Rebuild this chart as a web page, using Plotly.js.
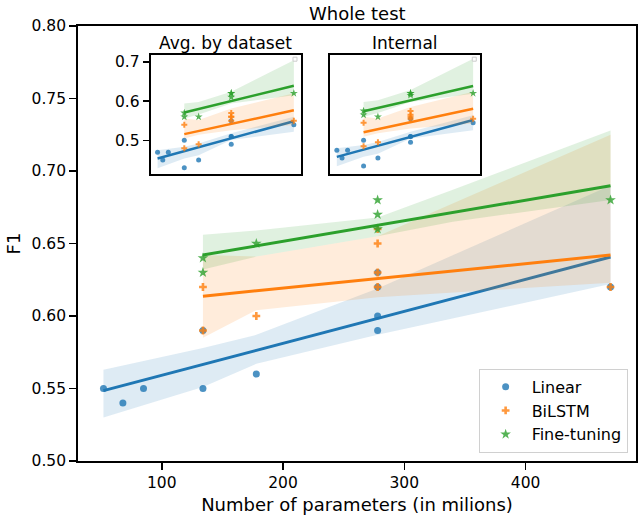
<!DOCTYPE html>
<html>
<head>
<meta charset="utf-8">
<script src="https://cdn.plot.ly/plotly-3.0.1.min.js"></script>
<style>html,body{margin:0;padding:0;background:#fff;}#chart{width:643px;height:518px;}</style>
</head>
<body>
<div id="chart"></div>
<script>
// ---------- data ----------
var seriesNames = ['Linear', 'BiLSTM', 'Fine-tuning'];

// Whole test (main axes)
var linearX = [52, 68, 85, 134, 134, 178, 278, 278, 278, 278, 470];
var linearF1 = [0.55, 0.54, 0.55, 0.55, 0.59, 0.56, 0.59, 0.60, 0.62, 0.63, 0.62];
var bilstmX = [134, 134, 178, 278, 278, 278, 278, 470];
var bilstmF1 = [0.59, 0.62, 0.60, 0.62, 0.63, 0.65, 0.66, 0.62];
var fineX = [134, 134, 178, 278, 278, 278, 470];
var fineF1 = [0.63, 0.64, 0.65, 0.66, 0.67, 0.68, 0.68];

// Avg. by dataset (inset 1)
var avgLinearF1 = [0.47, 0.45, 0.47, 0.43, 0.50, 0.45, 0.55, 0.51, 0.49, 0.51, 0.54];
var avgBilstmF1 = [0.54, 0.48, 0.49, 0.57, 0.56, 0.56, 0.55, 0.55];
var avgFineF1 = [0.57, 0.56, 0.56, 0.62, 0.61, 0.62, 0.62];

// Internal (inset 2)
var intLinearF1 = [0.475, 0.455, 0.475, 0.435, 0.50, 0.455, 0.555, 0.51, 0.495, 0.51, 0.545];
var intBilstmF1 = [0.545, 0.485, 0.495, 0.575, 0.565, 0.56, 0.555, 0.555];
var intFineF1 = [0.575, 0.565, 0.56, 0.62, 0.615, 0.62, 0.62];

// confidence bands (lower / upper edges)
var linearBandX = [52, 134, 178, 278, 470];
var linearLo = [0.530, 0.551, 0.567, 0.587, 0.622];
var linearHi = [0.563, 0.578, 0.587, 0.619, 0.690];
var bilstmBandX = [134, 178, 278, 470];
var bilstmLo = [0.585, 0.604, 0.613, 0.623];
var bilstmHi = [0.642, 0.641, 0.655, 0.725];
var fineBandX = [134, 178, 278, 340, 470];
var fineLo = [0.632, 0.641, 0.655, 0.665, 0.680];
var fineHi = [0.656, 0.659, 0.668, 0.687, 0.728];

var avgLinearLo = [0.429, 0.454, 0.462, 0.501, 0.522];
var avgLinearHi = [0.475, 0.484, 0.492, 0.518, 0.560];
var avgBilstmLo = [0.505, 0.514, 0.526, 0.539];
var avgBilstmHi = [0.556, 0.552, 0.581, 0.620];
var avgFineLo = [0.556, 0.566, 0.594, 0.600, 0.615];
var avgFineHi = [0.594, 0.598, 0.624, 0.650, 0.704];

var intLinearLo = [0.434, 0.458, 0.466, 0.505, 0.526];
var intLinearHi = [0.480, 0.488, 0.496, 0.522, 0.564];
var intBilstmLo = [0.509, 0.518, 0.530, 0.543];
var intBilstmHi = [0.560, 0.556, 0.585, 0.624];
var intFineLo = [0.560, 0.570, 0.598, 0.604, 0.619];
var intFineHi = [0.598, 0.602, 0.628, 0.654, 0.708];

var xTicks = [100, 200, 300, 400];
var yTicks = [0.50, 0.55, 0.60, 0.65, 0.70, 0.75, 0.80];
var insetYTicks = [0.5, 0.6, 0.7];

// ---------- styling ----------
var colors = ['#1f77b4', '#ff7f0e', '#2ca02c'];
var bandColors = ['rgba(31,119,180,0.15)', 'rgba(255,127,14,0.15)', 'rgba(44,160,44,0.15)'];
var symbols = ['circle', 'cross', 'star'];
var FONT = 'DejaVu Sans, Verdana, sans-serif';

function fit(xs, ys) {
  var n = xs.length, mx = 0, my = 0, i;
  for (i = 0; i < n; i++) { mx += xs[i]; my += ys[i]; }
  mx /= n; my /= n;
  var sxx = 0, sxy = 0;
  for (i = 0; i < n; i++) { sxx += (xs[i] - mx) * (xs[i] - mx); sxy += (xs[i] - mx) * (ys[i] - my); }
  var b = sxy / sxx;
  var x0 = Math.min.apply(null, xs), x1 = Math.max.apply(null, xs);
  return { x: [x0, x1], y: [my + b * (x0 - mx), my + b * (x1 - mx)] };
}

var traces = [];
function addSeries(k, xs, ys, bx, lo, hi, xa, ya, main) {
  traces.push({
    type: 'scatter', mode: 'markers', x: xs, y: ys, xaxis: xa, yaxis: ya,
    name: seriesNames[k], showlegend: main, legendrank: k + 1,
    marker: { symbol: symbols[k], color: colors[k], opacity: 0.8,
      size: main ? (k === 2 ? 8 : (k === 1 ? 6.5 : 7)) : (k === 2 ? 6 : 5), line: { width: 0 } },
    hoverinfo: 'skip'
  });
  var px = bx.concat(bx.slice().reverse());
  var py = hi.concat(lo.slice().reverse());
  traces.push({
    type: 'scatter', mode: 'lines', x: px, y: py, xaxis: xa, yaxis: ya,
    fill: 'toself', fillcolor: bandColors[k], line: { width: 0, color: 'rgba(0,0,0,0)' },
    showlegend: false, hoverinfo: 'skip'
  });
  var f = fit(xs, ys);
  traces.push({
    type: 'scatter', mode: 'lines', x: f.x, y: f.y, xaxis: xa, yaxis: ya,
    line: { color: colors[k], width: main ? 3 : 2.5 }, showlegend: false, hoverinfo: 'skip'
  });
}

addSeries(0, linearX, linearF1, linearBandX, linearLo, linearHi, 'x', 'y', true);
addSeries(1, bilstmX, bilstmF1, bilstmBandX, bilstmLo, bilstmHi, 'x', 'y', true);
addSeries(2, fineX, fineF1, fineBandX, fineLo, fineHi, 'x', 'y', true);

addSeries(0, linearX, avgLinearF1, linearBandX, avgLinearLo, avgLinearHi, 'x2', 'y2', false);
addSeries(1, bilstmX, avgBilstmF1, bilstmBandX, avgBilstmLo, avgBilstmHi, 'x2', 'y2', false);
addSeries(2, fineX, avgFineF1, fineBandX, avgFineLo, avgFineHi, 'x2', 'y2', false);

addSeries(0, linearX, intLinearF1, linearBandX, intLinearLo, intLinearHi, 'x3', 'y3', false);
addSeries(1, bilstmX, intBilstmF1, bilstmBandX, intBilstmLo, intBilstmHi, 'x3', 'y3', false);
addSeries(2, fineX, intFineF1, fineBandX, intFineLo, intFineHi, 'x3', 'y3', false);

var tickFont = { family: FONT, size: 15.5, color: '#000' };
var xr = [31, 491];
var insetYR = [0.4135, 0.717];

function insetX(dom) {
  return { domain: dom, range: xr, showline: true, mirror: true, linecolor: '#000', linewidth: 2,
    ticks: '', showticklabels: false, showgrid: false, zeroline: false, fixedrange: true };
}
function insetY(dom, xa, labels) {
  return { domain: dom, anchor: xa, range: insetYR, showline: true, mirror: true, linecolor: '#000', linewidth: 2,
    ticks: labels ? 'outside' : '', ticklen: 6, tickwidth: 1.5, tickcolor: '#000',
    tickvals: insetYTicks, tickformat: '.1f', showticklabels: labels, tickfont: tickFont,
    showgrid: false, zeroline: false, fixedrange: true };
}

var insetYDom = [0.659, 0.933];

var layout = {
  width: 643, height: 518,
  margin: { l: 78, r: 7, t: 26, b: 57, pad: 0 },
  paper_bgcolor: '#fff', plot_bgcolor: '#fff',
  font: { family: FONT, color: '#000' },
  showlegend: true,
  xaxis: {
    range: xr, tickvals: xTicks, showline: true, mirror: true, linecolor: '#000', linewidth: 1.8,
    ticks: 'outside', ticklen: 7, tickwidth: 1.6, tickcolor: '#000', tickfont: tickFont,
    showgrid: false, zeroline: false,
    title: { text: 'Number of parameters (in milions)', font: { family: FONT, size: 18, color: '#000' }, standoff: 7 }
  },
  yaxis: {
    range: [0.5, 0.8], tickvals: yTicks, tickformat: '.2f', showline: true, mirror: true, linecolor: '#000', linewidth: 1.8,
    ticks: 'outside', ticklen: 7, tickwidth: 1.6, tickcolor: '#000', tickfont: tickFont,
    showgrid: false, zeroline: false,
    title: { text: 'F1', font: { family: FONT, size: 18, color: '#000' }, standoff: 6 }
  },
  xaxis2: Object.assign(insetX([0.1303, 0.3991]), { anchor: 'y2' }),
  yaxis2: insetY(insetYDom, 'x2', true),
  xaxis3: Object.assign(insetX([0.4516, 0.7204]), { anchor: 'y3' }),
  yaxis3: insetY(insetYDom, 'x3', false),
  legend: {
    x: 0.985, xanchor: 'right', y: 0.019, yanchor: 'bottom',
    bgcolor: 'rgba(255,255,255,0.8)', bordercolor: '#d0d0d0', borderwidth: 1,
    font: { family: FONT, size: 16, color: '#000' }, tracegroupgap: 0, itemsizing: 'trace', itemwidth: 42
  },
  annotations: [
    { text: 'Whole test', xref: 'paper', yref: 'paper', x: 0.5, y: 1, xanchor: 'center', yanchor: 'bottom',
      yshift: 0, showarrow: false, font: { family: FONT, size: 18, color: '#000' } },
    { text: 'Avg. by dataset', xref: 'x2 domain', yref: 'y2 domain', x: 0.5, y: 1, xanchor: 'center', yanchor: 'bottom',
      yshift: 0, showarrow: false, font: { family: FONT, size: 17, color: '#000' } },
    { text: 'Internal', xref: 'x3 domain', yref: 'y3 domain', x: 0.5, y: 1, xanchor: 'center', yanchor: 'bottom',
      yshift: 0, showarrow: false, font: { family: FONT, size: 17, color: '#000' } }
  ],
  shapes: [
    { type: 'rect', xref: 'x2 domain', yref: 'y2 domain', xsizemode: 'pixel', ysizemode: 'pixel',
      xanchor: 0.962, yanchor: 0.966, x0: -2, x1: 2, y0: -2, y1: 2, line: { color: '#cccccc', width: 1 }, fillcolor: 'rgba(255,255,255,0.8)' },
    { type: 'rect', xref: 'x3 domain', yref: 'y3 domain', xsizemode: 'pixel', ysizemode: 'pixel',
      xanchor: 0.962, yanchor: 0.966, x0: -2, x1: 2, y0: -2, y1: 2, line: { color: '#cccccc', width: 1 }, fillcolor: 'rgba(255,255,255,0.8)' }
  ]
};

Plotly.newPlot('chart', traces, layout, { staticPlot: true, displayModeBar: false });
</script>
</body>
</html>
